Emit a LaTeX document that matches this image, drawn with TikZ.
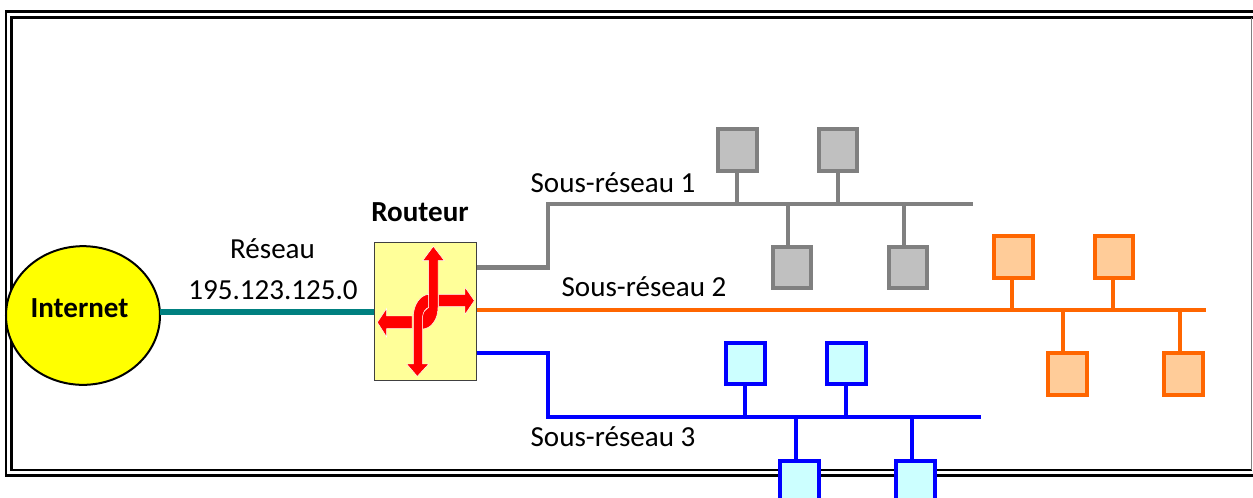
\documentclass[tikz,border=0pt]{standalone}
\usetikzlibrary{shapes.geometric}
\usepackage{fontspec}
\setmainfont{Carlito}
\definecolor{tealline}{RGB}{0,128,128}
\definecolor{grayline}{RGB}{128,128,128}
\definecolor{grayfill}{RGB}{192,192,192}
\definecolor{orline}{RGB}{255,102,0}
\definecolor{orfill}{RGB}{255,204,153}
\definecolor{blline}{RGB}{0,0,255}
\definecolor{blfill}{RGB}{204,255,255}
\definecolor{routerfill}{RGB}{255,255,153}
\definecolor{inetfill}{RGB}{255,255,0}
\definecolor{arrowred}{RGB}{255,0,0}
\tikzset{
 x=0.75pt,y=-0.75pt,
 lab/.style={font=\fontsize{21.8}{26}\selectfont,inner sep=0pt},
 blab/.style={font=\fontsize{21.8}{26}\selectfont\bfseries,inner sep=0pt},
 host/.style={draw,line width=3pt,minimum width=29pt,minimum height=31pt,inner sep=0pt,outer sep=0pt},
 gh/.style={host,draw=grayline,fill=grayfill},
 oh/.style={host,draw=orline,fill=orfill},
 bh/.style={host,draw=blline,fill=blfill},
 net/.style={line width=3.2pt,line join=miter},
 fr/.style={draw=black,line width=2pt},
 redarrow/.style={fill=arrowred,draw=white,line width=0.35pt,line join=miter},
}
\begin{document}
\begin{tikzpicture}
\useasboundingbox (0,0) rectangle (1253,497);
% double frame
\draw[fr] (1253,11.5) -- (6,11.5) -- (6,475.5) -- (1253,475.5);
\draw[fr] (1253,17.5) -- (11.5,17.5) -- (11.5,470) -- (1251.5,470);
\draw[draw=grayline,line width=0.8pt] (1251.5,17.5) -- (1251.5,470);

% main nodes
\node[draw=black,line width=1.5pt,fill=inetfill,ellipse,minimum width=115.5pt,minimum height=104pt,inner sep=0pt,outer sep=0pt] (inet) at (83,315.5) {};
\node[blab] (inettxt) at (79.5,308) {Internet};
\node[draw=black!75,fill=routerfill,line width=0.8pt,minimum width=77pt,minimum height=104pt,inner sep=0pt,outer sep=0pt] (rt) at (425.5,311.5) {};
\node[blab] (rttxt) at (420,212) {Routeur};

% router arrows
\begin{scope}[shift={(360,230)},x=0.25pt,y=-0.25pt]
\path[redarrow] (80,235) -- (52,277) -- (80,321) -- (80,296) -- (156,296) -- (156,258) -- (80,258) -- cycle;
\path[redarrow] (315,172) -- (343,212) -- (315,253) -- (315,230) -- (236,230) -- (236,193) -- (315,193) -- cycle;
\path[redarrow] (188,92) -- (220,49) -- (253,92) -- (234,92) -- (234,232) .. controls (234,270) and (212,297) .. (187,297) -- (187,258) .. controls (189,245) and (197,238) .. (206,232) -- (206,92) -- cycle;
\path[redarrow] (140,402) -- (172,439) -- (206,402) -- (188,402) -- (188,258) .. controls (190,245) and (196,236) .. (206,232) -- (206,193) .. controls (180,195) and (160,225) .. (160,260) -- (160,402) -- cycle;
\end{scope}

% hosts
\node[gh] (g1) at (737.5,150) {};
\node[gh] (g2) at (838,150) {};
\node[gh] (g3) at (792,267.5) {};
\node[gh] (g4) at (908,267.5) {};
\node[oh] (o1) at (1013.5,257) {};
\node[oh] (o2) at (1114,257) {};
\node[oh] (o3) at (1067.5,374) {};
\node[oh] (o4) at (1183.5,374) {};
\node[bh] (b1) at (745.5,363.5) {};
\node[bh] (b2) at (846.5,363.5) {};
\node[bh] (b3) at (799.5,481.5) {};
\node[bh] (b4) at (915.5,481.5) {};

% bus coordinates
\coordinate (gturn) at (548,267.5);
\coordinate (gleft) at (548,204);
\coordinate (gright) at (973,204);
\coordinate (oright) at (1206,310);
\coordinate (bturn) at (548,353);
\coordinate (bleft) at (548,417);
\coordinate (bright) at (981,417);

% links
\draw[line width=4pt,draw=tealline] (inet.east |- 0,312) -- (rt.west |- 0,312);
\draw[net,draw=grayline] (rt.east |- gturn) -- (gturn) -- (gleft) -- (gright);
\draw[net,draw=orline] (rt.east |- oright) -- (oright);
\draw[net,draw=blline] (rt.east |- bturn) -- (bturn) -- (bleft) -- (bright);

% stems
\draw[net,draw=grayline] (737,172) -- (737,204) (838,172) -- (838,204) (788,204) -- (788,246) (904,204) -- (904,246);
\draw[net,draw=orline] (1012,279) -- (1012,310) (1113,279) -- (1113,310) (1063,310) -- (1063,352) (1180,310) -- (1180,352);
\draw[net,draw=blline] (745,385) -- (745,417) (846,385) -- (846,417) (796,417) -- (796,460) (912,417) -- (912,460);

% labels
\node[lab] (l1) at (272.5,249) {Réseau};
\node[lab] (l2) at (273,290) {195.123.125.0};
\node[lab] (l3) at (613,183) {Sous-réseau 1};
\node[lab] (l4) at (644,287) {Sous-réseau 2};
\node[lab] (l5) at (613,437) {Sous-réseau 3};
\end{tikzpicture}
\end{document}
